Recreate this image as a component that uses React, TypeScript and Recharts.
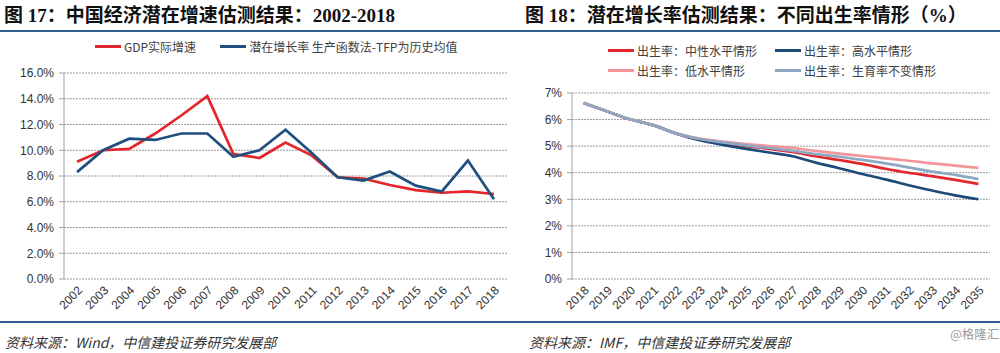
import { CartesianGrid, Line, LineChart, XAxis, YAxis } from 'recharts'

// 图17
const LEFT_YEARS = ['2002', '2003', '2004', '2005', '2006', '2007', '2008', '2009', '2010', '2011', '2012', '2013', '2014', '2015', '2016', '2017', '2018']
const GDP_GROWTH = [9.1, 10.0, 10.1, 11.3, 12.7, 14.2, 9.7, 9.4, 10.6, 9.6, 7.9, 7.8, 7.3, 6.9, 6.7, 6.8, 6.6]
const POTENTIAL_GROWTH = [8.3, 10.0, 10.9, 10.8, 11.3, 11.3, 9.5, 10.0, 11.6, 9.8, 7.9, 7.65, 8.35, 7.25, 6.8, 9.2, 6.2]
const LEFT_TICKS = [0, 2, 4, 6, 8, 10, 12, 14, 16]

// 图18
const RIGHT_YEARS = ['2018', '2019', '2020', '2021', '2022', '2023', '2024', '2025', '2026', '2027', '2028', '2029', '2030', '2031', '2032', '2033', '2034', '2035']
const BIRTH_NEUTRAL = [6.62, 6.31, 6.01, 5.79, 5.47, 5.25, 5.12, 5.0, 4.9, 4.78, 4.62, 4.48, 4.33, 4.15, 4.0, 3.87, 3.73, 3.58]
const BIRTH_HIGH = [6.62, 6.31, 6.01, 5.79, 5.47, 5.22, 5.05, 4.9, 4.76, 4.62, 4.38, 4.17, 3.95, 3.75, 3.53, 3.33, 3.15, 3.0]
const BIRTH_LOW = [6.62, 6.31, 6.01, 5.79, 5.47, 5.28, 5.17, 5.08, 5.0, 4.93, 4.82, 4.72, 4.63, 4.54, 4.45, 4.35, 4.27, 4.18]
const BIRTH_UNCHANGED = [6.62, 6.31, 6.01, 5.79, 5.47, 5.27, 5.14, 5.03, 4.93, 4.82, 4.7, 4.6, 4.48, 4.35, 4.2, 4.04, 3.92, 3.76]
const RIGHT_TICKS = [0, 1, 2, 3, 4, 5, 6, 7]

const leftData = LEFT_YEARS.map((year, i) => ({ i, year, gdp: GDP_GROWTH[i], potential: POTENTIAL_GROWTH[i] }))
const rightData = RIGHT_YEARS.map((year, i) => ({
  i,
  year,
  neutral: BIRTH_NEUTRAL[i],
  high: BIRTH_HIGH[i],
  low: BIRTH_LOW[i],
  unchanged: BIRTH_UNCHANGED[i],
}))

const LEFT_SERIES = [
  { key: 'gdp', name: 'GDP实际增速', color: '#e3262b' },
  { key: 'potential', name: '潜在增长率 生产函数法-TFP为历史均值', color: '#1f4f7e' },
]
const RIGHT_SERIES = [
  { key: 'neutral', name: '出生率：中性水平情形', color: '#e3262b' },
  { key: 'high', name: '出生率：高水平情形', color: '#1d4a78' },
  { key: 'low', name: '出生率：低水平情形', color: '#f3969b' },
  { key: 'unchanged', name: '出生率：生育率不变情形', color: '#8ea8c3' },
]

const SANS = "'Liberation Sans', Arial, 'Noto Sans CJK SC', sans-serif"
const CJK = "'Noto Sans CJK SC', sans-serif"
const TITLE_FONT = "'Liberation Serif', 'Noto Sans CJK SC', serif"
const AXIS = '#a0a0a0'
const RULE = '#2f5d8c'

const tickStyle = { fontSize: 12, fill: '#333', fontFamily: SANS }

function boundaries(n: number) {
  return Array.from({ length: n + 1 }, (_, k) => k - 0.5)
}

function LegendItem({ color, name }: { color: string; name: string }) {
  return (
    <div style={{ display: 'flex', alignItems: 'center', height: 20 }}>
      <div style={{ width: 26, height: 3, background: color, marginRight: 3 }} />
      <span style={{ fontSize: 12, color: '#404040', fontFamily: CJK, whiteSpace: 'nowrap' }}>{name}</span>
    </div>
  )
}

interface PanelProps {
  data: any[]
  years: string[]
  series: { key: string; name: string; color: string }[]
  ticks: number[]
  fmt: (v: number) => string
  width: number
  margin: { top: number; right: number; left: number; bottom: number }
  yWidth: number
  curve: 'linear' | 'monotone'
}

function Panel({ data, years, series, ticks, fmt, width, margin, yWidth, curve }: PanelProps) {
  const n = years.length
  const domain: [number, number] = [-0.5, n - 0.5]
  return (
    <LineChart width={width} height={320} data={data} margin={margin}>
      <CartesianGrid vertical={false} stroke="#999" strokeDasharray="2 1" xAxisId="lab" />
      <XAxis
        xAxisId="tk"
        type="number"
        dataKey="i"
        domain={domain}
        ticks={boundaries(n)}
        interval={0}
        tick={false}
        tickSize={5}
        height={0}
        axisLine={{ stroke: AXIS }}
        tickLine={{ stroke: AXIS }}
        allowDataOverflow
      />
      <XAxis
        xAxisId="lab"
        type="number"
        dataKey="i"
        domain={domain}
        ticks={data.map((d) => d.i)}
        interval={0}
        tickFormatter={(v: number) => years[v]}
        tick={tickStyle}
        angle={-45}
        textAnchor="end"
        tickSize={4}
        tickMargin={2}
        height={36}
        axisLine={false}
        tickLine={false}
        allowDataOverflow
      />
      <YAxis
        type="number"
        domain={[ticks[0], ticks[ticks.length - 1]]}
        ticks={ticks}
        interval={0}
        tickFormatter={fmt}
        tick={tickStyle}
        width={yWidth}
        tickSize={5}
        tickMargin={5}
        axisLine={{ stroke: AXIS }}
        tickLine={{ stroke: AXIS }}
      />
      {series.map((s) => (
        <Line
          key={s.key}
          xAxisId="lab"
          type={curve}
          dataKey={s.key}
          name={s.name}
          stroke={s.color}
          strokeWidth={2.7}
          dot={false}
          isAnimationActive={false}
        />
      ))}
    </LineChart>
  )
}

export default function App() {
  return (
    <div
      style={{
        position: 'absolute',
        left: 0,
        top: 0,
        width: 1000,
        height: 353,
        background: '#fff',
        overflow: 'hidden',
      }}
    >
      <div style={{ position: 'absolute', left: 4, top: 0, fontFamily: TITLE_FONT, fontWeight: 700, fontSize: 19, color: '#111', whiteSpace: 'nowrap' }}>
        图 17：中国经济潜在增速估测结果：2002-2018
      </div>
      <div style={{ position: 'absolute', left: 525, top: 0, fontFamily: TITLE_FONT, fontWeight: 700, fontSize: 19, color: '#111', whiteSpace: 'nowrap' }}>
        图 18：潜在增长率估测结果：不同出生率情形（%）
      </div>
      <div style={{ position: 'absolute', left: 0, top: 30, width: 1000, height: 2, background: RULE }} />
      <div style={{ position: 'absolute', left: 0, top: 321, width: 1000, height: 2, background: RULE }} />

      <div style={{ position: 'absolute', left: 0, top: 0 }}>
        <Panel
          data={leftData}
          years={LEFT_YEARS}
          series={LEFT_SERIES}
          ticks={LEFT_TICKS}
          fmt={(v) => `${v.toFixed(1)}%`}
          width={520}
          margin={{ top: 73, right: 13, left: 0, bottom: 5 }}
          yWidth={64}
          curve="linear"
        />
      </div>
      <div style={{ position: 'absolute', left: 500, top: 0 }}>
        <Panel
          data={rightData}
          years={RIGHT_YEARS}
          series={RIGHT_SERIES}
          ticks={RIGHT_TICKS}
          fmt={(v) => `${v}%`}
          width={500}
          margin={{ top: 93, right: 10, left: 0, bottom: 5 }}
          yWidth={72}
          curve="monotone"
        />
      </div>

      <div style={{ position: 'absolute', left: 95, top: 36, display: 'flex', gap: 24 }}>
        {LEFT_SERIES.map((s) => (
          <LegendItem key={s.key} color={s.color} name={s.name} />
        ))}
      </div>
      <div style={{ position: 'absolute', left: 608, top: 40, display: 'grid', gridTemplateColumns: '167px auto' }}>
        {RIGHT_SERIES.map((s) => (
          <LegendItem key={s.key} color={s.color} name={s.name} />
        ))}
      </div>

      <div style={{ position: 'absolute', left: 5, top: 332, fontFamily: CJK, fontStyle: 'italic', fontSize: 14, color: '#333', whiteSpace: 'nowrap' }}>
        资料来源：Wind，中信建投证券研究发展部
      </div>
      <div style={{ position: 'absolute', left: 529, top: 332, fontFamily: CJK, fontStyle: 'italic', fontSize: 14, color: '#333', whiteSpace: 'nowrap' }}>
        资料来源：IMF，中信建投证券研究发展部
      </div>
      <div style={{ position: 'absolute', left: 950, top: 324, fontFamily: CJK, fontSize: 12.5, color: '#9a9a9a', whiteSpace: 'nowrap' }}>
        @格隆汇
      </div>
    </div>
  )
}
